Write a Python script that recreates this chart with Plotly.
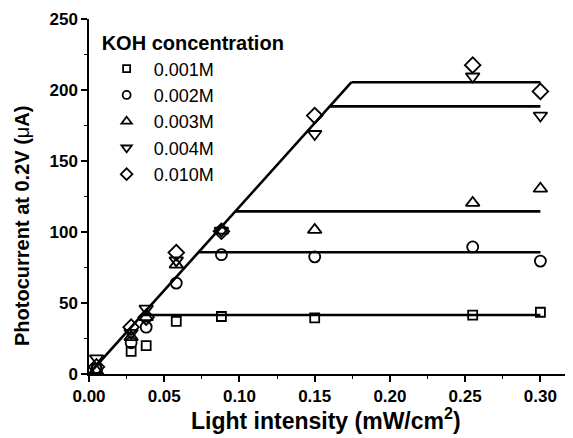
import plotly.graph_objects as go

# Data
light = [0.005, 0.028, 0.038, 0.058, 0.088, 0.15, 0.255, 0.30]
series_names = ["0.001M", "0.002M", "0.003M", "0.004M", "0.010M"]
i_0001 = [4, 16, 20, 37, 40.5, 39.5, 41.5, 43.5]
i_0002 = [3, 22, 33, 64, 84, 82.5, 89.5, 79.5]
i_0003 = [2, 26, 40, 77, 101, 101.5, 120.5, 130.5]
i_0004 = [11, 29, 46, 80, 101, 169, 209.5, 182]
i_0010 = [5, 33, 40, 85.5, 100.5, 182, 217.5, 199]
symbols = ["square-open", "circle-open", "triangle-up-open", "triangle-down-open", "diamond-open"]
sizes = [9, 11, 12, 12, 12]
legend_sizes = [7, 8, 9, 9, 9]

# Fitted guide lines: common linear rise, then plateau per concentration
fit_slope = 1178.0
plateaus = [41.5, 85.7, 114.5, 188.5, 205.5]
x_end = 0.30

x_title = "<b>Light intensity (mW/cm<sup>2</sup>)</b>"
y_title = "<b>Photocurrent at 0.2V (</b>μ<b>A)</b>"

FONT = "Liberation Sans, Arial, sans-serif"

fig = go.Figure()

top = max(plateaus)
fig.add_trace(go.Scatter(x=[0, top / fit_slope], y=[0, top], mode="lines",
                         line=dict(color="black", width=2.6), showlegend=False,
                         hoverinfo="skip"))
for p in plateaus:
    fig.add_trace(go.Scatter(x=[p / fit_slope, x_end], y=[p, p], mode="lines",
                             line=dict(color="black", width=2.6), showlegend=False,
                             hoverinfo="skip"))

all_series = [i_0001, i_0002, i_0003, i_0004, i_0010]
for name, ys, sym, sz in zip(series_names, all_series, symbols, sizes):
    fig.add_trace(go.Scatter(x=light, y=ys, mode="markers", name=name, showlegend=False,
                             marker=dict(symbol=sym, size=sz, color="black",
                                         line=dict(color="black", width=1.8))))
# legend entries (smaller symbols, as in the reference)
for name, sym, sz in zip(series_names, symbols, legend_sizes):
    fig.add_trace(go.Scatter(x=[None], y=[None], mode="markers", name=name,
                             marker=dict(symbol=sym, size=sz, color="black",
                                         line=dict(color="black", width=1.8))))

fig.update_layout(
    width=565, height=430,
    margin=dict(l=81, r=1, t=11, b=64),
    paper_bgcolor="white", plot_bgcolor="white",
    font=dict(family=FONT, color="black"),
    legend=dict(
        title=dict(text="<b>KOH concentration</b>", font=dict(size=20, family=FONT)),
        font=dict(size=18, family=FONT),
        x=0.022, y=0.985, xanchor="left", yanchor="top",
        bgcolor="rgba(0,0,0,0)", itemwidth=44, tracegroupgap=0,
    ),
    annotations=[
        dict(text=x_title, xref="paper", yref="paper", x=0.4907, y=-0.128,
             xanchor="center", yanchor="middle", showarrow=False,
             font=dict(size=23, family=FONT, color="black")),
        dict(text=y_title, xref="paper", yref="paper", x=-0.1387, y=0.417,
             xanchor="center", yanchor="middle", showarrow=False, textangle=-90,
             font=dict(size=20, family=FONT, color="black")),
    ],
)
fig.update_xaxes(
    range=[0, 0.321], automargin=False, showline=True, linecolor="black", linewidth=1.5,
    showgrid=False, zeroline=False, ticks="outside", ticklen=6, tickwidth=1.5,
    tickcolor="black", tickvals=[0, 0.05, 0.10, 0.15, 0.20, 0.25, 0.30],
    ticktext=["0.00", "0.05", "0.10", "0.15", "0.20", "0.25", "0.30"],
    tickfont=dict(size=17, family=FONT, weight="bold"),
    minor=dict(ticks="outside", ticklen=3, tickwidth=1.2, tickcolor="black", dtick=0.025, tick0=0),
)
fig.update_yaxes(
    range=[0, 250], automargin=False, showline=True, linecolor="black", linewidth=1.5,
    showgrid=False, zeroline=False, ticks="outside", ticklen=6, tickwidth=1.5,
    tickcolor="black", tickvals=[0, 50, 100, 150, 200, 250],
    tickfont=dict(size=17, family=FONT, weight="bold"),
    minor=dict(ticks="outside", ticklen=3, tickwidth=1.2, tickcolor="black", dtick=25, tick0=0),
)

fig.write_html("out.html")
